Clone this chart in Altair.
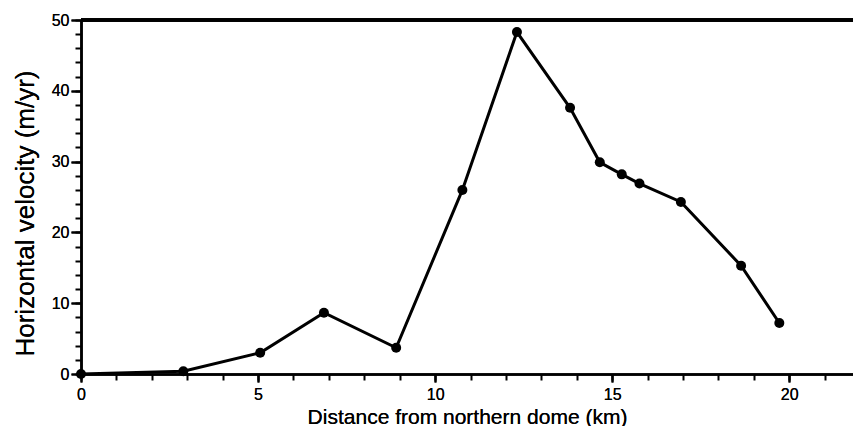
import altair as alt
import pandas as pd

# Horizontal surface velocity along the profile from the northern dome
distance_km = [0.0, 2.89, 5.06, 6.86, 8.90, 10.77, 12.31, 13.81, 14.65, 15.27, 15.77, 16.94, 18.64, 19.72]
velocity_m_yr = [0.0, 0.4, 3.0, 8.65, 3.7, 26.0, 48.3, 37.6, 29.9, 28.2, 26.9, 24.3, 15.3, 7.2]

x_major = [0, 5, 10, 15, 20]
x_minor = list(range(0, 22))
y_major = [0, 10, 20, 30, 40, 50]
y_minor = list(range(0, 51, 2))

df = pd.DataFrame({"distance": distance_km, "velocity": velocity_m_yr})

FONT = "Liberation Sans"
W, H = 772, 354

x_scale = alt.Scale(domain=[0, 21.8], nice=False, zero=False)
y_scale = alt.Scale(domain=[0, 50], nice=False)

x_axis = alt.Axis(
    orient="bottom",
    values=x_major,
    tickSize=8,
    labelOverlap=False,
    labelFlush=False,
    labelPadding=4,
    labelFontSize=16,
    grid=False,
    title="Distance from northern dome (km)",
    titleFontSize=21,
    titlePadding=4,
)
y_axis = alt.Axis(
    orient="left",
    values=y_major,
    tickSize=10,
    labelOverlap=False,
    labelFlush=False,
    labelPadding=2,
    labelFontSize=16,
    grid=False,
    title="Horizontal velocity (m/yr)",
    titleFontSize=26,
    titlePadding=13,
    titleY=193,
)

# minor tick axes sharing the same scales
x_minor_axis = alt.Axis(
    orient="bottom", values=x_minor, tickSize=6, labels=False, domain=False,
    grid=False, title=None,
)
y_minor_axis = alt.Axis(
    orient="left", values=y_minor, tickSize=6, labels=False, domain=False,
    grid=False, title=None,
)

base = alt.Chart(df).encode(
    x=alt.X("distance:Q", scale=x_scale, axis=x_axis),
    y=alt.Y("velocity:Q", scale=y_scale, axis=y_axis),
)

line = base.mark_line(color="black", strokeWidth=3)
points = base.mark_circle(color="black", opacity=1, size=100)

minor = alt.Chart(df).mark_point(opacity=0).encode(
    x=alt.X("distance:Q", scale=x_scale, axis=x_minor_axis),
    y=alt.Y("velocity:Q", scale=y_scale, axis=y_minor_axis),
)

# top frame line along the upper edge of the plot
top = alt.Chart(df).mark_rule(color="black", strokeWidth=2.5).encode(
    y=alt.value(0), x=alt.value(0), x2=alt.value(W)
)

chart = (
    alt.layer(line, points, minor, top)
    .resolve_axis(x="independent", y="independent")
    .properties(
        width=W,
        height=H,
        autosize=alt.AutoSizeParams(type="none"),
        padding={"left": 81, "top": 20, "right": 0, "bottom": 52},
    )
    .configure_view(stroke=None)
    .configure_axis(
        domainColor="black",
        domainWidth=2.5,
        tickColor="black",
        tickWidth=2,
        labelColor="black",
        labelFont=FONT,
        titleFont=FONT,
        titleFontWeight="normal",
        titleColor="black",
    )
)

chart.save("out.html", embed_options={"renderer": "svg", "actions": False})
